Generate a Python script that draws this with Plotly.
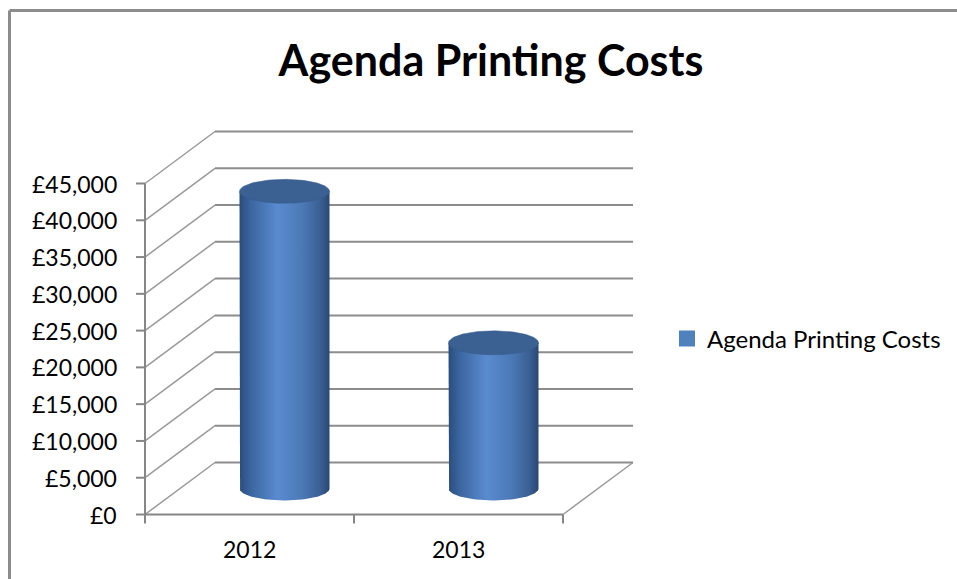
import numpy as np
import plotly.graph_objects as go

# ---- data ----
categories = ["2012", "2013"]
costs = [40400, 19800]
series_name = "Agenda Printing Costs"
y_ticks = [0, 5000, 10000, 15000, 20000, 25000, 30000, 35000, 40000, 45000]
y_tick_labels = ["£0", "£5,000", "£10,000", "£15,000", "£20,000", "£25,000",
                 "£30,000", "£35,000", "£40,000", "£45,000"]

# ---- layout constants (pixels) ----
W, H = 957, 579
X0_PX = 145.0          # front-left corner of floor
CAT_PX = 209.0         # pixels per category on the front edge
Y0_PX = 514.5          # value 0 on the front plane
PX_PER_V = 331.0 / 45000.0
DEPTH_DX_PX = 70.0
DEPTH_DY_PX = 52.0

xr0 = -X0_PX / CAT_PX
xr1 = (W - X0_PX) / CAT_PX
yr0 = -(H - Y0_PX) / PX_PER_V
yr1 = Y0_PX / PX_PER_V
DU = DEPTH_DX_PX / CAT_PX          # depth in category units
DV = DEPTH_DY_PX / PX_PER_V        # depth in value units
ncat = len(categories)

AXIS_C = "#868686"
GRID_C = "#8c8c8c"
DIAG_C = "#9a9a9a"
FONT = "Lato"

fig = go.Figure()
shapes = []

# back wall gridlines and side-wall diagonals
for v in y_ticks:
    shapes.append(dict(type="line", xref="x", yref="y", x0=DU, x1=ncat + DU,
                       y0=v + DV, y1=v + DV, line=dict(color=GRID_C, width=2), layer="below"))
    shapes.append(dict(type="line", xref="x", yref="y", x0=0, x1=DU,
                       y0=v, y1=v + DV, line=dict(color=DIAG_C, width=1.5), layer="below"))
# floor right diagonal
shapes.append(dict(type="line", xref="x", yref="y", x0=ncat, x1=ncat + DU,
                   y0=0, y1=DV, line=dict(color=DIAG_C, width=1.5), layer="below"))
# front axes
shapes.append(dict(type="line", xref="x", yref="y", x0=0, x1=ncat, y0=0, y1=0,
                   line=dict(color=AXIS_C, width=2)))
shapes.append(dict(type="line", xref="x", yref="y", x0=0, x1=0, y0=0, y1=y_ticks[-1],
                   line=dict(color=AXIS_C, width=2)))
tick_len_u = 9.0 / CAT_PX
tick_len_v = 9.0 / PX_PER_V
for v in y_ticks:
    shapes.append(dict(type="line", xref="x", yref="y", x0=-tick_len_u, x1=0, y0=v, y1=v,
                       line=dict(color=AXIS_C, width=2)))
for i in range(ncat + 1):
    shapes.append(dict(type="line", xref="x", yref="y", x0=i, x1=i, y0=0, y1=-tick_len_v,
                       line=dict(color=AXIS_C, width=2)))

# chart border (top and left visible)
shapes.append(dict(type="line", xref="paper", yref="paper", x0=9.5 / W, x1=1.0,
                   y0=1 - 10.5 / H, y1=1 - 10.5 / H, line=dict(color="#8c8c8c", width=3)))
shapes.append(dict(type="line", xref="paper", yref="paper", x0=9.5 / W, x1=9.5 / W,
                   y0=0, y1=1 - 10.5 / H, line=dict(color="#8c8c8c", width=3)))

# cylinders
RX = 45.0 / CAT_PX
RY = 12.0 / PX_PER_V
t = np.linspace(0, np.pi, 60)
tt = np.linspace(0, 2 * np.pi, 120)
body_scale = [[0, "#2b4c7c"], [0.12, "#3a659e"], [0.42, "#5a8bd0"],
              [0.7, "#4b79b6"], [0.9, "#3a5f93"], [1, "#2a4773"]]
for i, (c, v) in enumerate(zip(categories, costs)):
    cx = i + 0.5 + DU / 2
    base = DV / 2
    top = v + DV / 2
    bx = np.concatenate([[cx - RX, cx - RX], cx - RX * np.cos(t), [cx + RX, cx - RX]])
    by = np.concatenate([[top, base], base - RY * np.sin(t), [top, top]])
    fig.add_trace(go.Scatter(x=bx, y=by, mode="lines", fill="toself",
                             line=dict(width=0, color="#2b4c7c"),
                             fillgradient=dict(type="horizontal", colorscale=body_scale),
                             hoverinfo="skip", showlegend=False))
    fig.add_trace(go.Scatter(x=cx + RX * np.cos(tt), y=top + RY * np.sin(tt),
                             mode="lines", fill="toself", fillcolor="#3b6192",
                             line=dict(width=0.5, color="#375b8a"),
                             hovertemplate=f"{c}: £{v:,}<extra></extra>", showlegend=False))

# legend entry
fig.add_trace(go.Scatter(x=[None], y=[None], mode="markers", name=series_name,
                         marker=dict(symbol="square", size=16, color="#4f81bd")))

annotations = []
for v, lab in zip(y_ticks, y_tick_labels):
    annotations.append(dict(x=0, y=v, xref="x", yref="y", text=lab, showarrow=False,
                            xanchor="right", yanchor="middle", xshift=-26,
                            font=dict(family=FONT, size=23, color="#000")))
for i, c in enumerate(categories):
    annotations.append(dict(x=i + 0.5, y=0, xref="x", yref="y", text=c, showarrow=False,
                            xanchor="center", yanchor="middle", yshift=-34,
                            font=dict(family=FONT, size=23, color="#000")))

fig.update_layout(
    width=W, height=H,
    margin=dict(l=0, r=0, t=0, b=0),
    paper_bgcolor="white", plot_bgcolor="white",
    xaxis=dict(range=[xr0, xr1], visible=False, fixedrange=True),
    yaxis=dict(range=[yr0, yr1], visible=False, fixedrange=True),
    title=dict(text="<b>Agenda Printing Costs</b>", x=491 / W, xanchor="center",
               y=1 - 61 / H, yanchor="middle",
               font=dict(family=FONT, size=43, color="#000")),
    legend=dict(x=667 / W, y=1 - 339 / H, xanchor="left", yanchor="middle",
                font=dict(family=FONT, size=24, color="#000"), bgcolor="rgba(0,0,0,0)"),
    shapes=shapes, annotations=annotations,
)

fig.write_html("out.html")
